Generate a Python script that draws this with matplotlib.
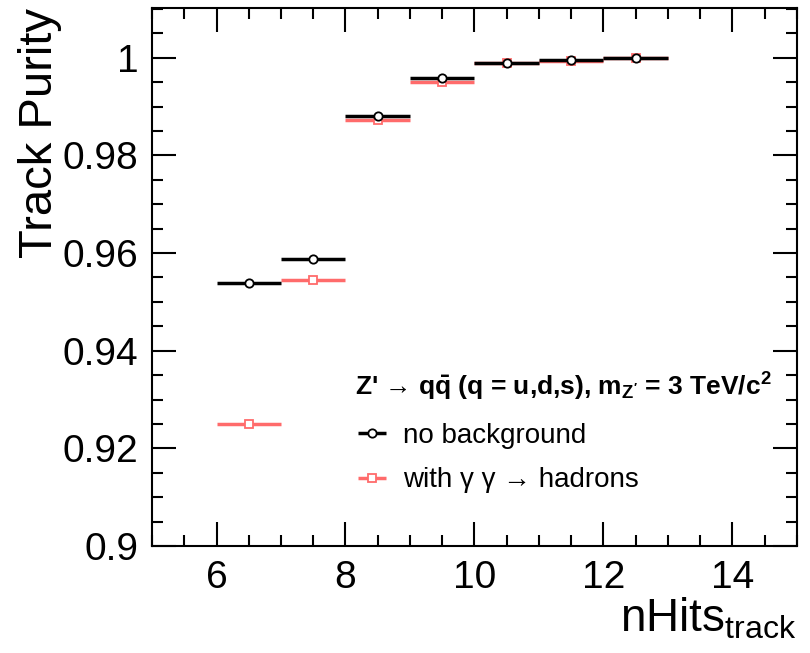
import matplotlib
matplotlib.use("Agg")
import matplotlib.pyplot as plt
from matplotlib.ticker import MultipleLocator

plt.rcParams["font.family"] = ["Liberation Sans", "DejaVu Sans"]
plt.rcParams["mathtext.fontset"] = "custom"
plt.rcParams["mathtext.rm"] = "Liberation Sans"
plt.rcParams["mathtext.it"] = "Liberation Sans:italic"
plt.rcParams["mathtext.bf"] = "Liberation Sans:bold"

# Daten
n_hits = [6.5, 7.5, 8.5, 9.5, 10.5, 11.5, 12.5]
bin_half = [0.5, 0.5, 0.5, 0.5, 0.5, 0.5, 0.5]
purity_nobkg = [0.9539, 0.9588, 0.9881, 0.9959, 0.9990, 0.9996, 0.9999]
purity_bkg = [0.9250, 0.9545, 0.9873, 0.9951, 0.9989, 0.9994, 0.9999]

red = "#ff6b6b"

fig = plt.figure(figsize=(8.1, 6.53), dpi=100)
ax = fig.add_axes([0.1877, 0.1639, 0.796, 0.8238])

ax.errorbar(n_hits, purity_nobkg, xerr=bin_half, fmt="o", color="black",
            mfc="white", mec="black", ms=6, mew=1.3, elinewidth=2.5,
            capsize=0, label="no background", zorder=3)
ax.errorbar(n_hits, purity_bkg, xerr=bin_half, fmt="s", color=red,
            mfc="white", mec=red, ms=6, mew=1.3, elinewidth=2.5,
            capsize=0, label="with γ γ → hadrons", zorder=2)

ax.set_xlim(5, 15)
ax.set_ylim(0.9, 1.0102)
ax.xaxis.set_major_locator(MultipleLocator(2))
ax.xaxis.set_minor_locator(MultipleLocator(0.5))
ax.yaxis.set_major_locator(MultipleLocator(0.02))
ax.yaxis.set_minor_locator(MultipleLocator(0.005))
ax.yaxis.set_major_formatter(plt.FuncFormatter(lambda v, p: f"{v:g}"))
ax.tick_params(which="both", direction="in", top=True, right=True,
               width=1.5, labelsize=28)
ax.tick_params(which="major", length=17, pad=10)
ax.tick_params(which="minor", length=8)
for s in ax.spines.values():
    s.set_linewidth(1.5)

ax.set_xlabel(r"nHits$_{\mathrm{track}}$", fontsize=33, loc="right", labelpad=0)
ax.set_ylabel("Track Purity", fontsize=34, loc="top", labelpad=0)

ax.text(0.315, 0.295,
        r"Z' → q$\mathbf{\bar{q}}$ (q = u,d,s), m$_{\mathbf{Z'}}$ = 3 TeV/c$^{\mathbf{2}}$",
        transform=ax.transAxes, fontsize=19, fontweight="bold", va="center")
ax.legend(loc="upper left", bbox_to_anchor=(0.268, 0.276), frameon=False,
          fontsize=20, handlelength=1.6, handletextpad=0.3, labelspacing=0.68)

fig.savefig("out.png", dpi=100)
